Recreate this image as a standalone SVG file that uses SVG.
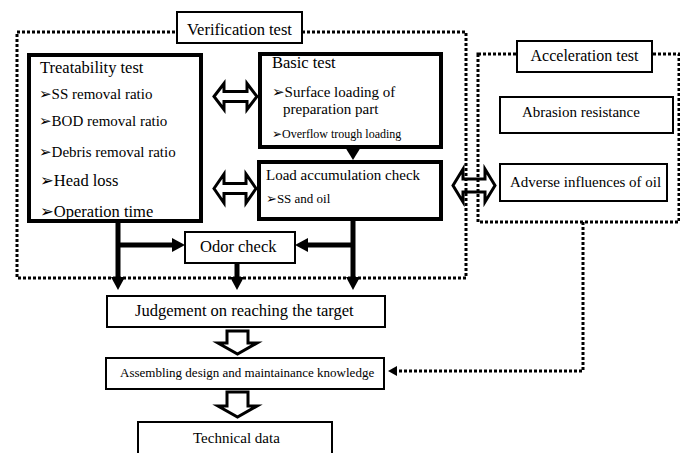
<svg xmlns="http://www.w3.org/2000/svg" width="680" height="453" viewBox="0 0 680 453">
<style>
text{font-family:"Liberation Serif","DejaVu Sans",serif;fill:#000}
.thin{fill:#fff;stroke:#000;stroke-width:2}
.thick{fill:#fff;stroke:#000;stroke-width:4}
.dot{fill:none;stroke:#000;stroke-width:3;stroke-dasharray:3,2}
.bold{fill:none;stroke:#000;stroke-width:5}
.hollow{fill:#fff;stroke:#000;stroke-width:3;stroke-linejoin:miter}
</style>
<defs>
<marker id="ah" markerUnits="userSpaceOnUse" markerWidth="13" markerHeight="14" refX="0" refY="7" orient="auto" viewBox="0 0 13 14">
<path d="M0,0 L13,7 L0,14 Z" fill="#000"/>
</marker>
<marker id="ahs" markerUnits="userSpaceOnUse" markerWidth="9" markerHeight="10" refX="0" refY="5" orient="auto" viewBox="0 0 9 10">
<path d="M0,0 L9,5 L0,10 Z" fill="#000"/>
</marker>
</defs>

<g id="connectors">
<path class="hollow" d="M453,185.5 L463,169 L463,179 L485,179 L485,169 L495,185.5 L485,202 L485,192 L463,192 L463,202 Z"/>
<path class="hollow" d="M214,96.5 L224,83.5 L224,91.5 L247,91.5 L247,83.5 L257,96.5 L247,109.5 L247,101.5 L224,101.5 L224,109.5 Z"/>
<path class="hollow" d="M214,188.5 L224,174 L224,183.5 L246,183.5 L246,174 L256,188.5 L246,203 L246,193.5 L224,193.5 L224,203 Z"/>
<path d="M345,147 L361,147 L353,160 Z" fill="#000"/>
<line class="bold" x1="118" y1="221" x2="118" y2="277" marker-end="url(#ah)"/>
<line class="bold" x1="353" y1="219" x2="353" y2="277" marker-end="url(#ah)"/>
<line class="bold" x1="237" y1="263" x2="237" y2="277" marker-end="url(#ah)"/>
<line class="bold" x1="116" y1="245" x2="172" y2="245" marker-end="url(#ah)"/>
<line class="bold" x1="355" y1="245" x2="308" y2="245" marker-end="url(#ah)"/>
<path class="hollow" d="M227,331 H248 V343 H257 L237.5,354 L218,343 H227 Z"/>
<path class="hollow" d="M227,392 H248 V406 H257 L237.5,417 L218,406 H227 Z"/>
<path class="dot" d="M583,222 V371 H397" marker-end="url(#ahs)"/>
</g>

<g id="verification">
<rect class="dot" x="17" y="32" width="449" height="246"/>
<rect class="thin" x="177" y="12" width="125" height="31"/>
<text x="239.5" y="35" font-size="16.5" text-anchor="middle">Verification test</text>
</g>

<g id="acceleration">
<rect class="dot" x="478" y="54" width="201" height="168"/>
<rect class="thin" x="517" y="41" width="135" height="31"/>
<text x="584.5" y="61" font-size="16" text-anchor="middle">Acceleration test</text>
</g>

<g id="treatability">
<rect class="thick" x="29" y="55" width="172" height="166"/>
<text x="40" y="73" font-size="16.5">Treatability test</text>
<text x="39" y="99" font-size="15">➢SS removal ratio</text>
<text x="39" y="126" font-size="15">➢BOD removal ratio</text>
<text x="39" y="157" font-size="15">➢Debris removal ratio</text>
<text x="40" y="186" font-size="16.5">➢Head loss</text>
<text x="40" y="217" font-size="16.5">➢Operation time</text>
</g>

<g id="basic">
<rect class="thick" x="260" y="54" width="181" height="93"/>
<text x="272" y="68" font-size="16.5">Basic test</text>
<text x="272" y="97" font-size="15">➢Surface loading of</text>
<text x="283" y="114" font-size="15">preparation part</text>
<text x="272" y="138" font-size="12">➢Overflow trough loading</text>
</g>

<g id="load">
<rect class="thick" x="259" y="162" width="182" height="57"/>
<text x="266" y="180" font-size="15">Load accumulation check</text>
<text x="266" y="203" font-size="13">➢SS and oil</text>
</g>

<g id="abrasion">
<rect class="thin" x="500" y="97" width="173" height="36"/>
<text x="522" y="117" font-size="15">Abrasion resistance</text>
</g>

<g id="adverse">
<rect class="thin" x="500" y="164" width="167" height="37"/>
<text x="510" y="187" font-size="15">Adverse influences of oil</text>
</g>

<g id="odor">
<rect class="thin" x="185" y="232" width="110" height="31"/>
<text x="200" y="252" font-size="16.5">Odor check</text>
</g>

<g id="judgement">
<rect class="thin" x="107" y="296" width="278" height="31"/>
<text x="135" y="316" font-size="16.5">Judgement on reaching the target</text>
</g>

<g id="assembling">
<rect class="thin" x="106" y="358" width="278" height="31"/>
<text x="120" y="377" font-size="13">Assembling design and maintainance knowledge</text>
</g>

<g id="technical">
<rect class="thin" x="138" y="422" width="194" height="40"/>
<text x="193" y="443" font-size="15">Technical data</text>
</g>
</svg>
